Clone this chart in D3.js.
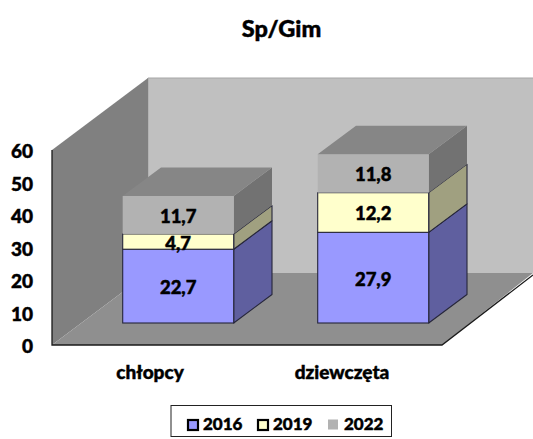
<!DOCTYPE html>
<html><head><meta charset="utf-8">
<script src="https://d3js.org/d3.v7.min.js"></script>
<style>html,body{margin:0;padding:0;background:#fff}svg{display:block;font-family:Lato,sans-serif;font-weight:900}
text{stroke:#000;stroke-width:0.45px;fill:#000}</style>
</head><body><svg id="c" width="533" height="439"></svg>
<script>
const title = "Sp/Gim";
const categories = ["chłopcy","dziewczęta"];
const seriesNames = ["2016","2019","2022"];
const values2016 = [22.7,27.9];
const values2019 = [4.7,12.2];
const values2022 = [11.7,11.8];
const yTicks = [0,10,20,30,40,50,60];
const frontColors = ["#9999ff","#ffffcc","#b2b2b2"];
const sideColors = ["#5f5f9f","#a0a080","#727272"];
const topColor = "#868686";
const all = [values2016,values2019,values2022];

const svg = d3.select("#c");
const y = d3.scaleLinear().domain([0,60]).range([345,150]);
const x = d3.scaleBand().domain(categories).range([52,442]).paddingInner(0).paddingOuter(0);
const barW = 111;
const wallDx = 96, wallDy = -72;       // full depth of the box
const barOff = {x:28.7,y:-22};         // front face of bars inside the box
const barD = {x:38.3,y:-28.5};         // depth of a bar
const poly = (pts,fill,stroke,sw)=>svg.append("polygon").attr("points",pts.map(p=>p.join(",")).join(" "))
  .attr("fill",fill).attr("stroke",stroke||"none").attr("stroke-width",sw||0).attr("stroke-linejoin","round");

const L=x.range()[0], R=x.range()[1], B=y(0), T=y(60);
poly([[L+wallDx,T+wallDy],[533,T+wallDy],[533,B+wallDy],[L+wallDx,B+wallDy]],"#c0c0c0");
svg.append("path").attr("d",`M${L+wallDx},${B+wallDy}V${T+wallDy}H533`).attr("fill","none").attr("stroke","#a6a6a6").attr("stroke-width",1);
poly([[L,T],[L+wallDx,T+wallDy],[L+wallDx,B+wallDy],[L,B]],"#808080");
poly([[L,B],[L+wallDx,B+wallDy],[533,B+wallDy],[R,B]],"#8f8f8f");
svg.append("path").attr("d",`M${L},${T}V${B}H${R}L${R+91},${B+wallDy+2}`).attr("fill","none").attr("stroke","#1a1a1a").attr("stroke-width",1.3);

categories.forEach((c,i)=>{
  const x0 = x(c)+x.bandwidth()/2+barOff.x-barW/2, x1=x0+barW;
  let acc=0;
  all.forEach((vals,s)=>{
    const v=vals[i];
    const yb=y(acc)+barOff.y, yt=y(acc+v)+barOff.y;
    const st = s<2?"#26263a":"none", sw = s<2?1.1:0;
    poly([[x1,yb],[x1+barD.x,yb+barD.y],[x1+barD.x,yt+barD.y],[x1,yt]],sideColors[s],st,sw);
    svg.append("rect").attr("x",x0).attr("y",yt).attr("width",barW).attr("height",yb-yt)
      .attr("fill",frontColors[s]).attr("stroke",st).attr("stroke-width",sw);
    if(s===2) poly([[x0,yt],[x0+barD.x,yt+barD.y],[x1+barD.x,yt+barD.y],[x1,yt]],topColor);
    acc+=v;
  });
  acc=0;
  all.forEach((vals,s)=>{
    const v=vals[i];
    const ym=(y(acc)+y(acc+v))/2+barOff.y;
    svg.append("text").attr("x",(x0+x1)/2).attr("y",ym+1.5).attr("dy","0.35em").attr("text-anchor","middle")
      .attr("font-size",18.5).text(String(v).replace(".",","));
    acc+=v;
  });
  svg.append("text").attr("x",x(c)+x.bandwidth()/2+(i?-2.5:0.5)).attr("y",379).attr("text-anchor","middle")
    .attr("font-size",19).text(c);
});

svg.selectAll(".yl").data(yTicks).join("text").attr("class","yl").attr("x",33).attr("y",d=>y(d)+1.5).attr("dy","0.35em")
  .attr("text-anchor","end").attr("font-size",19).text(d=>d);

svg.append("text").attr("x",281.5).attr("y",37).attr("text-anchor","middle").attr("font-size",23.5).text(title);

svg.append("rect").attr("x",171).attr("y",405.5).attr("width",220.5).attr("height",31).attr("fill","#fff").attr("stroke","#222").attr("stroke-width",1);
const lgX=[188,258,328], lgT=[203,273,344];
seriesNames.forEach((n,i)=>{
  svg.append("rect").attr("x",lgX[i]).attr("y",i<2?420:419.5).attr("width",10).attr("height",10).attr("fill",frontColors[i])
    .attr("stroke",i<2?"#000":"none").attr("stroke-width",i<2?2.2:0);
  svg.append("text").attr("x",lgT[i]).attr("y",430).attr("font-size",17).text(n);
});
</script></body></html>
